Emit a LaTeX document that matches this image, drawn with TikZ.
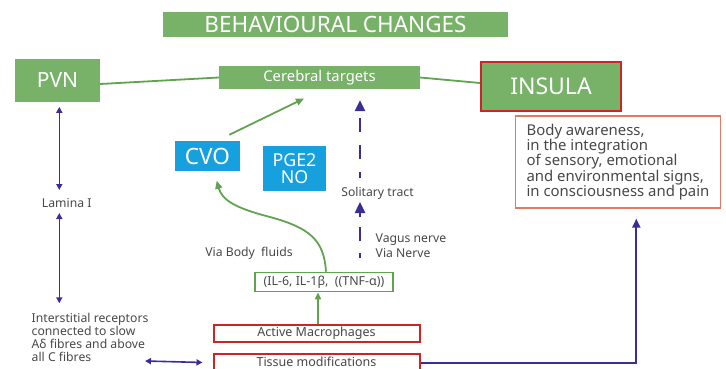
\documentclass[tikz,border=0pt]{standalone}
\usepackage{fontspec}
\setmainfont{Noto Sans}
\usetikzlibrary{arrows.meta}
\definecolor{gfill}{RGB}{120,178,104}
\definecolor{gline}{RGB}{96,164,78}
\definecolor{pblue}{RGB}{58,46,148}
\definecolor{rborder}{RGB}{208,36,36}
\definecolor{oborder}{RGB}{226,122,98}
\definecolor{bfill}{RGB}{22,160,222}
\definecolor{tgray}{RGB}{72,72,72}
\newcommand{\fsz}[2]{\fontsize{#1}{#2}\selectfont}
\begin{document}
\begin{tikzpicture}[x=1pt,y=-1pt,
  gbox/.style={fill=gfill, text=white, inner sep=0pt},
  bbox/.style={fill=bfill, text=white, inner sep=0pt, align=center},
  rbox/.style={draw=rborder, line width=2pt, fill=white, text=tgray, inner sep=0pt},
  lbl/.style={text=tgray, inner sep=0pt, font=\fsz{12.2}{12.8}},
  gconn/.style={draw=gline, line width=1.8pt},
  garrow/.style={draw=gline, line width=1.8pt, -{Triangle[length=8pt,width=7pt]}},
  parrow/.style={draw=pblue, line width=2pt, -{Triangle[length=9pt,width=8pt]}},
  dashline/.style={draw=pblue, line width=2.4pt},
  dashtip/.style={draw=pblue, line width=2.4pt, -{Triangle[length=11pt,width=10pt]}},
  dbl/.style={draw=pblue, line width=1.6pt, {Triangle[length=6pt,width=6pt]}-{Triangle[length=6pt,width=6pt]}}
]
\useasboundingbox (0,0) rectangle (726,369);

% boxes
\node[gbox, minimum width=345pt, minimum height=25pt, font=\fsz{22.5}{22.5}] (beh) at (335.5,24.5) {BEHAVIOURAL CHANGES};
\node[gbox, minimum width=85pt, minimum height=43pt, font=\fsz{21}{21}] (pvn) at (57.5,80.5) {PVN};
\node[gbox, minimum width=201pt, minimum height=23pt, font=\fsz{14.8}{14.8}] (cer) at (319.5,77.5) {Cerebral targets};
\node[gbox, draw=rborder, line width=2.2pt, minimum width=140pt, minimum height=49pt, font=\fsz{23}{23}] (ins) at (551,86.5) {INSULA};
\node[draw=oborder, line width=1.3pt, minimum width=205pt, minimum height=92pt, text=tgray, align=left, font=\fsz{14.9}{15.3}, inner sep=0pt] (body) at (618,162) {Body awareness,\\in the integration\\of sensory, emotional\\and environmental signs,\\in consciousness and pain};
\node[bbox, minimum width=65pt, minimum height=30pt, font=\fsz{22.5}{22.5}] (cvo) at (207.5,156) {CVO};
\node[bbox, minimum width=63pt, minimum height=45pt, font=\fsz{17.8}{17.5}] (pge) at (294.5,168.5) {PGE2\\NO};
\node[draw=gline, line width=1.6pt, fill=white, minimum width=138pt, minimum height=19pt, text=tgray, inner sep=0pt, font=\fsz{12.4}{12.4}] (cyt) at (324,282) {(IL-6, IL-1β,\ \ ((TNF-α))};
\node[rbox, minimum width=206pt, minimum height=17pt, font=\fsz{12.5}{12.5}] (act) at (316.5,333.5) {Active Macrophages};
\node[rbox, minimum width=206pt, minimum height=18pt, text depth=0pt, text height=7pt, font=\fsz{12.5}{12.5}] (tis) at (316.5,362.5) {Tissue modifications};

% labels
\node[lbl, anchor=base] (lam) at (66.7,207.5) {Lamina I};
\node[lbl, anchor=north west, align=left] (int) at (31.5,313.5) {Interstitial receptors\\connected to slow\\Aδ fibres and above\\all C fibres};
\node[lbl, anchor=base] (sol) at (377.5,196.5) {Solitary tract};
\node[lbl, anchor=north west, align=left, font=\fsz{12.2}{14.7}] (vag) at (375.5,234) {Vagus nerve\\Via Nerve};
\node[lbl, anchor=base] (vbf) at (249,256.5) {Via Body\ \ fluids};

% coordinates for free ends
\coordinate (lamtop) at (59.3,190);
\coordinate (lambot) at (59.3,213);
\coordinate (inttop) at (59.3,303.3);
\coordinate (intright) at (145,361);
\coordinate (soltip) at (360,202);
\coordinate (solbase) at (360,214);
\coordinate (vagbot) at (360,258);
\coordinate (upperbot) at (360,178);

% green connectors
\draw[gconn] ([yshift=-3.5pt]pvn.east) -- (cer.west);
\draw[gconn] (cer.east) -- ([yshift=3.5pt]ins.west);
\draw[garrow] ([shift={(21.8,-6)}]cvo.north) -- ([shift={(-15.5,9.3)}]cer.south);
\draw[garrow] ([xshift=2pt]cyt.north) .. controls (324,240) and (310,228) .. (270,217) .. controls (235,208) and (222,200) .. ([shift={(9.2,9.5)}]cvo.south);
\draw[draw=gline, line width=1.6pt, -{Triangle[length=7pt,width=6pt]}] ([xshift=1.5pt]act.north) -- ([xshift=-6pt]cyt.south);

% dashed vagus arrows
\draw[dashtip, dash pattern=on 14pt off 13pt, dash phase=8pt] (upperbot) -- ([shift={(40.5,11)}]cer.south);
\draw[dashline, dash pattern=on 14pt off 12pt, dash phase=9pt] (vagbot) -- (solbase);
\draw[dashtip] ([yshift=-3pt]solbase) -- (soltip);

% blue connectors
\draw[parrow] (tis.east) -| ([shift={(18.3,10)}]body.south);
\draw[dbl] ([shift={(1.8,4.7)}]pvn.south) -- (lamtop);
\draw[dbl] (lambot) -- (inttop);
\draw[dbl] (intright) -- ([xshift=-10pt]tis.west);
\end{tikzpicture}
\end{document}
